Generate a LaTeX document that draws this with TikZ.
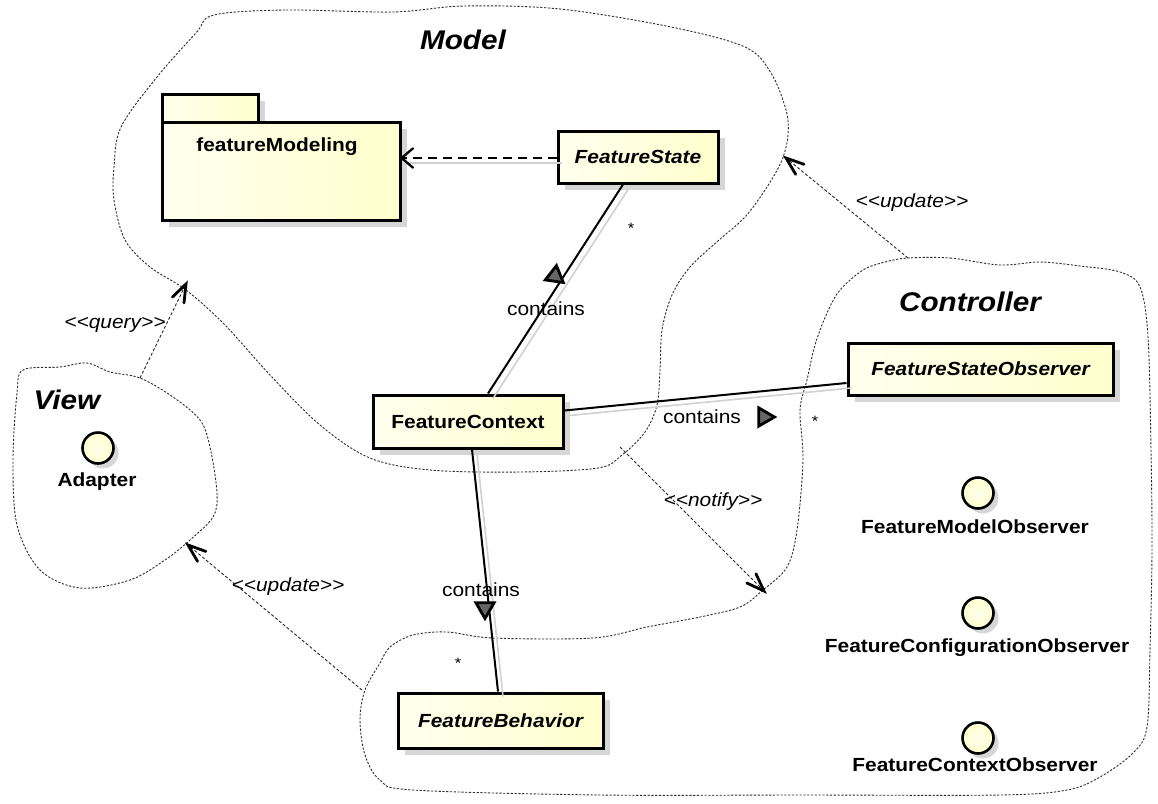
\documentclass[tikz,border=0pt]{standalone}
\usepackage{fontspec}
\setmainfont{Liberation Sans}[FakeStretch=1.1]
\usetikzlibrary{shadows,shapes.geometric,calc}

\definecolor{umlfill}{RGB}{255,255,205}
\definecolor{umlpale}{RGB}{255,255,238}
\definecolor{cloudline}{RGB}{45,45,45}

% stereotype brackets kept as two plain angle brackets
\newcommand{\lguil}{<\kern0pt<}
\newcommand{\rguil}{>\kern0pt>}

% open arrow head at #1, pointing away from #2; arm length #3, half angle #4
\newcommand{\openhead}[5][]{%
  \draw[headstroke,#1] ($(#2)!#4!#5:(#3)$) -- (#2) -- ($(#2)!#4!-#5:(#3)$);}

\tikzset{
  umlbox/.style={draw, line width=3pt, left color=umlpale, right color=umlfill,
    drop shadow={shadow xshift=7pt, shadow yshift=-7pt, fill=black!16, opacity=1},
    inner sep=0pt},
  classname/.style={font=\fontsize{19}{22}\selectfont\bfseries},
  abstractname/.style={font=\fontsize{19}{22}\selectfont\bfseries\itshape},
  pkgtitle/.style={font=\fontsize{27}{30}\selectfont\bfseries\itshape},
  iface/.style={circle, draw, line width=2.6pt, minimum size=31pt, inner sep=0pt,
    inner color=umlpale, outer color=umlfill,
    drop shadow={shadow xshift=5pt, shadow yshift=-5pt, fill=black!16, opacity=1}},
  cloud/.style={draw=cloudline, line width=0.9pt, dash pattern=on 2.2pt off 1.6pt},
  dep/.style={draw=black!85, line width=0.9pt, dash pattern=on 3pt off 2pt},
  usage/.style={draw=black, line width=1.6pt, dash pattern=on 9pt off 6pt},
  headstroke/.style={draw=black, line width=2.8pt, line cap=round, line join=miter},
  assoc/.style={draw=black, line width=2pt},
  ghost/.style={draw=black!18, line width=1.6pt},
  dirtri/.style={regular polygon, regular polygon sides=3, draw, line width=2.8pt,
    fill=black!60, minimum size=21pt, inner sep=0pt},
  stereo/.style={font=\fontsize{19}{22}\selectfont\itshape},
  rolelabel/.style={font=\fontsize{19}{22}\selectfont},
  multiplicity/.style={font=\fontsize{15}{18}\selectfont},
}

\begin{document}
\begin{tikzpicture}[x=1pt, y=-1pt]
\useasboundingbox[fill=white] (0,0) rectangle (1158,803);

% ---------- package clouds ----------
\draw[cloud] plot[smooth cycle, tension=0.55] coordinates {
  (214,15) (286,10) (393,12) (464,6) (560,9) (671,27) (745,47) (771,73)
  (786,110) (788,135) (782,160) (767,187) (745,217) (719,240) (690,267)
  (672,295) (662,330) (660,370) (657,405) (645,432) (622,455) (598,468)
  (520,472) (430,470) (370,458) (320,425) (270,375) (225,325) (186,290)
  (150,267) (125,240) (114,200) (114,167) (121,127) (157,77) (196,33)};

\draw[cloud] plot[smooth cycle, tension=0.55] coordinates {
  (23,370) (60,367) (87,363) (110,372) (140,378) (173,397) (200,420)
  (210,447) (217,493) (213,517) (190,540) (165,560) (130,580) (80,588)
  (40,570) (17,525) (13,460) (17,393)};

\draw[cloud] plot[smooth cycle, tension=0.55] coordinates {
  (908,258) (950,258) (1000,265) (1040,262) (1080,266) (1120,272)
  (1140,287) (1148,337) (1151,450) (1152,550) (1150,650) (1147,727)
  (1133,753) (1100,777) (1067,790) (1000,795) (800,795) (600,795)
  (413,790) (380,780) (365,755) (360,720) (365,690) (380,663) (390,647)
  (413,635) (447,632) (493,638) (593,638) (647,627) (700,617) (740,607)
  (763,590) (787,567) (797,530) (803,460) (800,410) (807,380) (815,345)
  (827,313) (840,290) (863,270) (885,262)};

\node[pkgtitle] (modelname) at (463,40) {Model};
\node[pkgtitle] (viewname) at (67,400) {View};
\node[pkgtitle] (ctrlname) at (970,302) {Controller};

% ---------- featureModeling package ----------
\node[umlbox, minimum width=96pt, minimum height=28pt] (pkgtab) at (210,108) {};
\node[umlbox, minimum width=238pt, minimum height=98pt] (pkg) at (281,171) {};
\node[classname] (pkgname) at (277,147) {featureModeling};

% ---------- classes ----------
\node[umlbox, minimum width=160pt, minimum height=52pt] (fs) at (638,157) {};
\node[abstractname] at (fs) {FeatureState};
\node[umlbox, minimum width=190pt, minimum height=53pt] (fc) at (468,421.5) {};
\node[classname] at (fc) {FeatureContext};
\node[umlbox, minimum width=265pt, minimum height=52pt] (fso) at (980.5,369) {};
\node[abstractname] at (fso) {FeatureStateObserver};
\node[umlbox, minimum width=205pt, minimum height=55pt] (fb) at (500.5,720.5) {};
\node[abstractname] at (fb) {FeatureBehavior};

% ---------- interfaces ----------
\node[iface] (adapter) at (98,448) {};
\node[classname] (adaptername) at (97,482) {Adapter};
\node[iface] (fmo) at (978,493) {};
\node[classname] (fmoname) at (975,527) {FeatureModelObserver};
\node[iface] (fco) at (978,613) {};
\node[classname] (fconame) at (977,648) {FeatureConfigurationObserver};
\node[iface] (fcxo) at (978,738) {};
\node[classname] (fcxoname) at (975,765) {FeatureContextObserver};

% ---------- connector shadows ----------
\begin{scope}[transform canvas={xshift=5pt, yshift=-5pt}]
  \draw[ghost] ([xshift=-15pt]fs.south) -- ([xshift=20pt]fc.north);
  \draw[ghost] ([yshift=11pt]fc.east) -- ([yshift=-14pt]fso.west);
  \draw[ghost] ([xshift=4pt]fc.south) -- ([xshift=-2.5pt]fb.north);
  \draw[ghost] ([yshift=-1pt]fs.west) -- ([yshift=-1pt]fs.west -| pkg.east);
\end{scope}

% ---------- associations ----------
\draw[assoc] ([xshift=-15pt]fs.south) -- ([xshift=20pt]fc.north);
\draw[assoc] ([yshift=11pt]fc.east) -- ([yshift=-14pt]fso.west);
\draw[assoc] ([xshift=4pt]fc.south) -- ([xshift=-2.5pt]fb.north);

\node[dirtri, rotate=-8] (dir1) at (555,276) {};
\node[dirtri, rotate=-90] (dir2) at (764,417) {};
\node[dirtri, rotate=180] (dir3) at (485,608) {};

\node[rolelabel] (role1) at (546,309) {contains};
\node[rolelabel] (role2) at (702,417) {contains};
\node[rolelabel] (role3) at (481,590) {contains};

\node[multiplicity] (mult1) at (631,228) {*};
\node[multiplicity] (mult2) at (815,421) {*};
\node[multiplicity] (mult3) at (458,663) {*};

% ---------- usage of featureModeling ----------
\coordinate (usefrom) at ([yshift=-1pt]fs.west);
\coordinate (useto) at ([yshift=-1pt]fs.west -| pkg.east);
\draw[usage] (usefrom) -- (useto);
\openhead[line width=2.3pt]{useto}{usefrom}{15pt}{40}

% ---------- dependencies between packages ----------
\coordinate (viewtop) at (140,378);
\coordinate (modelleft) at (186,284);
\coordinate (ctrltop) at (908,258);
\coordinate (modelright) at (786,158);
\coordinate (ctrlleft) at (362,690);
\coordinate (viewright) at (188,545);
\coordinate (modelbottom) at (620,447);
\coordinate (ctrlinner) at (764,591);

\draw[dep] (viewtop) -- (modelleft);
\openhead{modelleft}{viewtop}{19pt}{20}
\draw[dep] (ctrltop) -- (modelright);
\openhead{modelright}{ctrltop}{19pt}{20}
\draw[dep] (ctrlleft) -- (viewright);
\openhead{viewright}{ctrlleft}{19pt}{20}
\draw[dep] (modelbottom) -- (ctrlinner);
\openhead{ctrlinner}{modelbottom}{19pt}{20}

\node[stereo] (querylabel) at (115,325) {\lguil query\rguil};
\node[stereo] (updlabel1) at (912,203) {\lguil update\rguil};
\node[stereo] (updlabel2) at (288,587) {\lguil update\rguil};
\node[stereo] (notifylabel) at (713,502) {\lguil notify\rguil};
\end{tikzpicture}
\end{document}
